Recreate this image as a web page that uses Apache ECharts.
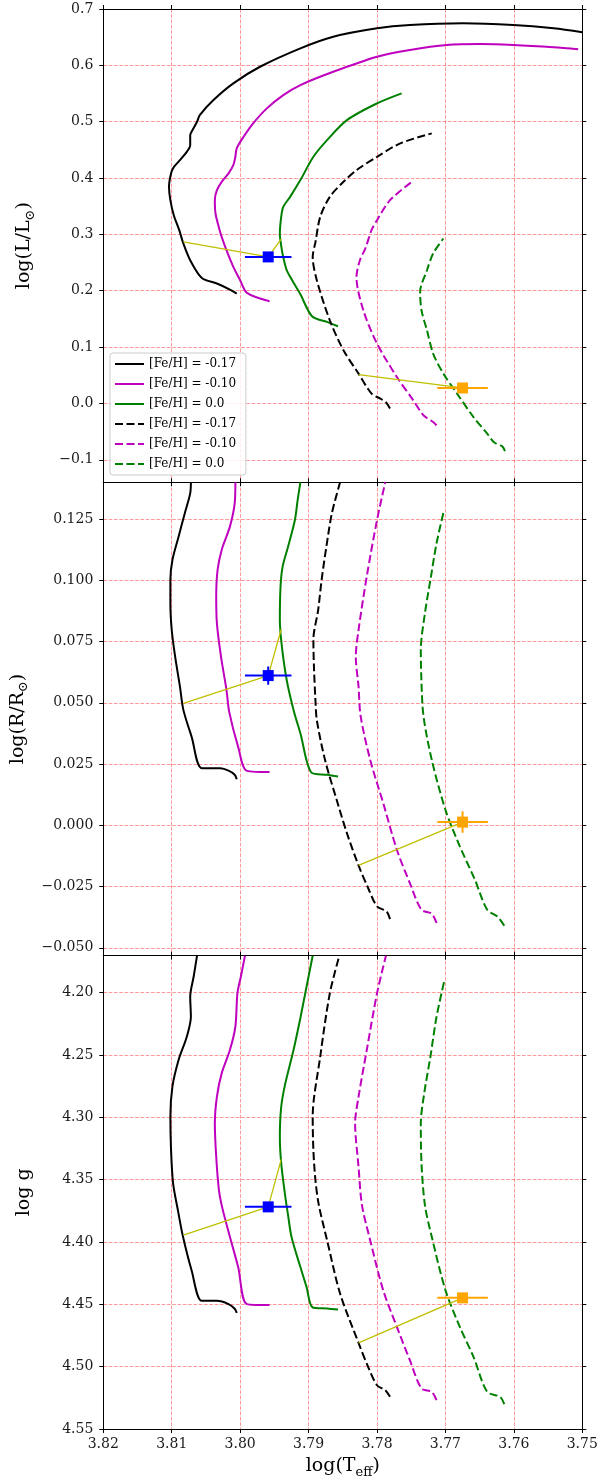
<!DOCTYPE html>
<html><head><meta charset="utf-8">
<script src="https://cdn.jsdelivr.net/npm/echarts@6.0.0/dist/echarts.min.js"></script>
<style>html,body{margin:0;padding:0;background:#fff}#c{width:612px;height:1484px}</style>
</head><body><div id="c"></div>
<script>
// ---- tick values ----
const xTicks = [3.82, 3.81, 3.80, 3.79, 3.78, 3.77, 3.76, 3.75];
const lumTicks = [-0.1, 0.0, 0.1, 0.2, 0.3, 0.4, 0.5, 0.6, 0.7];
const radTicks = [-0.05, -0.025, 0.0, 0.025, 0.05, 0.075, 0.1, 0.125];
const loggTicks = [4.20, 4.25, 4.30, 4.35, 4.40, 4.45, 4.50, 4.55];

// ---- legend names (solid / dashed) ----
const trackNames = ['[Fe/H] = -0.17', '[Fe/H] = -0.10', '[Fe/H] = 0.0',
                    '[Fe/H] = -0.17 ', '[Fe/H] = -0.10 ', '[Fe/H] = 0.0 '];

// ---- panel 1: log(L/Lsun) vs log Teff ----
const lumSolidA = [[3.8005,0.1950],[3.8015,0.2021],[3.8034,0.2128],[3.8056,0.2227],[3.8073,0.2542],[3.8083,0.2838],[3.8089,0.3075],[3.8097,0.3341],[3.8102,0.3607],[3.8104,0.3844],[3.8101,0.4082],[3.8097,0.4194],[3.8088,0.4318],[3.8078,0.4465],[3.8073,0.4584],[3.8073,0.4762],[3.8071,0.4821],[3.8063,0.4998],[3.8059,0.5117],[3.8039,0.5384],[3.8010,0.5680],[3.7971,0.5975],[3.7912,0.6302],[3.7864,0.6508],[3.7800,0.6657],[3.7752,0.6716],[3.7674,0.6746],[3.7601,0.6716],[3.7542,0.6657],[3.7500,0.6586]];
const lumSolidB = [[3.7957,0.1813],[3.7990,0.1961],[3.8000,0.2187],[3.8010,0.2423],[3.8020,0.2719],[3.8027,0.2956],[3.8030,0.3075],[3.8036,0.3371],[3.8037,0.3607],[3.8034,0.3785],[3.8027,0.3933],[3.8017,0.4082],[3.8010,0.4229],[3.8007,0.4377],[3.8005,0.4526],[3.7995,0.4732],[3.7981,0.4970],[3.7961,0.5236],[3.7937,0.5472],[3.7912,0.5650],[3.7864,0.5886],[3.7800,0.6153],[3.7752,0.6272],[3.7698,0.6361],[3.7649,0.6378],[3.7601,0.6361],[3.7542,0.6320],[3.7506,0.6284]];
const lumSolidC = [[3.7857,0.1369],[3.7873,0.1446],[3.7895,0.1547],[3.7912,0.1938],[3.7924,0.2187],[3.7932,0.2364],[3.7937,0.2595],[3.7939,0.2719],[3.7942,0.3016],[3.7940,0.3311],[3.7937,0.3488],[3.7927,0.3666],[3.7912,0.3963],[3.7893,0.4377],[3.7873,0.4673],[3.7844,0.5028],[3.7800,0.5325],[3.7764,0.5503]];
const lumDashA = [[3.7781,-0.0092],[3.7787,0.0020],[3.7795,0.0085],[3.7808,0.0174],[3.7827,0.0529],[3.7849,0.0943],[3.7869,0.1476],[3.7888,0.2187],[3.7894,0.2600],[3.7890,0.2861],[3.7883,0.3311],[3.7869,0.3666],[3.7849,0.3933],[3.7830,0.4140],[3.7800,0.4377],[3.7766,0.4615],[3.7720,0.4792]];
const lumDashB = [[3.7713,-0.0389],[3.7718,-0.0330],[3.7732,-0.0211],[3.7747,0.0055],[3.7771,0.0469],[3.7800,0.1062],[3.7820,0.1654],[3.7830,0.2245],[3.7825,0.2542],[3.7817,0.2750],[3.7808,0.3075],[3.7800,0.3252],[3.7781,0.3607],[3.7749,0.3933]];
const lumDashC = [[3.7613,-0.0845],[3.7617,-0.0762],[3.7629,-0.0691],[3.7639,-0.0536],[3.7659,-0.0242],[3.7683,0.0174],[3.7703,0.0529],[3.7718,0.0885],[3.7727,0.1298],[3.7735,0.1654],[3.7737,0.1979],[3.7727,0.2364],[3.7718,0.2661],[3.7703,0.2927]];

// ---- panel 2: log(R/Rsun) ----
const radSolidA = [[3.8005,0.0188],[3.8008,0.0206],[3.8017,0.0223],[3.8029,0.0233],[3.8056,0.0233],[3.8071,0.0362],[3.8083,0.0471],[3.8088,0.0566],[3.8095,0.0688],[3.8100,0.0797],[3.8102,0.0906],[3.8102,0.1001],[3.8099,0.1083],[3.8090,0.1178],[3.8081,0.1273],[3.8073,0.1355],[3.8072,0.1400]];
const radSolidB = [[3.7957,0.0217],[3.7990,0.0222],[3.8003,0.0321],[3.8016,0.0463],[3.8020,0.0553],[3.8028,0.0688],[3.8034,0.0825],[3.8035,0.0933],[3.8033,0.1042],[3.8027,0.1124],[3.8015,0.1219],[3.8008,0.1314],[3.8007,0.1400]];
const radSolidC = [[3.7857,0.0199],[3.7873,0.0206],[3.7895,0.0213],[3.7912,0.0376],[3.7922,0.0471],[3.7932,0.0593],[3.7939,0.0729],[3.7942,0.0838],[3.7941,0.0974],[3.7938,0.1055],[3.7930,0.1137],[3.7920,0.1246],[3.7916,0.1327],[3.7912,0.1400]];
const radDashA = [[3.7781,-0.0383],[3.7786,-0.0352],[3.7800,-0.0331],[3.7813,-0.0256],[3.7827,-0.0164],[3.7844,-0.0032],[3.7859,0.0104],[3.7876,0.0267],[3.7888,0.0430],[3.7890,0.0512],[3.7892,0.0634],[3.7893,0.0757],[3.7886,0.0879],[3.7881,0.1001],[3.7874,0.1137],[3.7866,0.1273],[3.7854,0.1400]];
const radDashB = [[3.7713,-0.0399],[3.7720,-0.0361],[3.7735,-0.0345],[3.7752,-0.0236],[3.7771,-0.0100],[3.7791,0.0091],[3.7810,0.0267],[3.7824,0.0447],[3.7827,0.0566],[3.7831,0.0688],[3.7827,0.0797],[3.7815,0.1015],[3.7800,0.1246],[3.7788,0.1400]];
const radDashC = [[3.7614,-0.0410],[3.7624,-0.0373],[3.7639,-0.0345],[3.7657,-0.0222],[3.7679,-0.0086],[3.7700,0.0063],[3.7720,0.0267],[3.7732,0.0444],[3.7735,0.0580],[3.7736,0.0716],[3.7730,0.0865],[3.7722,0.1001],[3.7713,0.1151],[3.7702,0.1287]];

// ---- panel 3: log g ----
const loggSolidA = [[3.8005,4.4568],[3.8008,4.4535],[3.8017,4.4498],[3.8034,4.4472],[3.8056,4.4472],[3.8071,4.4226],[3.8084,4.3945],[3.8091,4.3744],[3.8098,4.3530],[3.8101,4.3262],[3.8102,4.2995],[3.8099,4.2754],[3.8090,4.2540],[3.8078,4.2353],[3.8072,4.2193],[3.8073,4.2032],[3.8068,4.1872],[3.8063,4.1703]];
const loggSolidB = [[3.7957,4.4506],[3.7990,4.4498],[3.8003,4.4199],[3.8015,4.3958],[3.8026,4.3728],[3.8031,4.3583],[3.8035,4.3316],[3.8037,4.3048],[3.8034,4.2835],[3.8027,4.2647],[3.8015,4.2460],[3.8007,4.2273],[3.8004,4.2005],[3.7999,4.1872],[3.7993,4.1703]];
const loggSolidC = [[3.7857,4.4541],[3.7873,4.4533],[3.7894,4.4525],[3.7903,4.4360],[3.7912,4.4201],[3.7925,4.3958],[3.7930,4.3784],[3.7934,4.3637],[3.7940,4.3369],[3.7942,4.3156],[3.7940,4.2915],[3.7934,4.2727],[3.7922,4.2460],[3.7912,4.2203],[3.7903,4.1952],[3.7894,4.1703]];
const loggDashA = [[3.7781,4.5242],[3.7788,4.5189],[3.7800,4.5149],[3.7813,4.5002],[3.7827,4.4809],[3.7854,4.4413],[3.7873,4.3985],[3.7885,4.3704],[3.7890,4.3503],[3.7893,4.3262],[3.7894,4.2995],[3.7883,4.2514],[3.7869,4.2005],[3.7855,4.1703]];
const loggDashB = [[3.7713,4.5269],[3.7720,4.5202],[3.7735,4.5175],[3.7752,4.4948],[3.7771,4.4681],[3.7791,4.4386],[3.7810,4.3985],[3.7822,4.3704],[3.7827,4.3396],[3.7832,4.3048],[3.7827,4.2835],[3.7815,4.2460],[3.7800,4.2005],[3.7787,4.1703]];
const loggDashC = [[3.7614,4.5301],[3.7620,4.5242],[3.7639,4.5202],[3.7659,4.4921],[3.7679,4.4681],[3.7700,4.4386],[3.7720,4.3958],[3.7730,4.3704],[3.7735,4.3369],[3.7736,4.3048],[3.7731,4.2807],[3.7722,4.2514],[3.7713,4.2193],[3.7702,4.1912]];

// ---- stars (blue, orange) ----
const starTeff = [3.7959, 3.7675];
const starTeffErr = [0.0034, 0.0037];
const starLum = [0.2600, 0.0274];
const starRad = [0.0611, 0.0013];
const starRadErr = [0.0037, 0.0044];
const starLogg = [4.3718, 4.4448];
const starColors = ['#0000ff', '#ffa500'];

// ---- yellow connectors (track point -> star -> track point) ----
const linkLumBlue = [[3.8083,0.2867],[3.7959,0.2600],[3.7940,0.2915]];
const linkLumOrange = [[3.7827,0.0512],[3.7675,0.0274]];
const linkRadBlue = [[3.8083,0.0498],[3.7959,0.0611],[3.7940,0.0800]];
const linkRadOrange = [[3.7827,-0.0164],[3.7675,0.0013]];
const linkLoggBlue = [[3.8083,4.3945],[3.7959,4.3718],[3.7940,4.3337]];
const linkLoggOrange = [[3.7827,4.4809],[3.7675,4.4448]];

// ================= build =================
const FONT = 'DejaVu Serif';
const trackColors = ['#000000', '#bf00bf', '#008000', '#000000', '#bf00bf', '#008000'];
const gridTops = [9, 482.3, 955.7];
const gridH = 473.3;
const fmt = d => v => (v < -1e-9 ? '\u2212' : '') + Math.abs(v).toFixed(d);
const redGrid = {show: true, lineStyle: {color: 'rgba(255,0,0,0.4)', width: 1, type: [3.7, 1.6]}};
const blackLine = {show: true, onZero: false, lineStyle: {color: '#000', width: 1}};

const grids = gridTops.map(t => ({left: 103.3, width: 479, top: t, height: gridH, containLabel: false}));

const xAxes = [], yAxes = [];
const yDefs = [
  {min: -0.14, max: 0.70, ticks: lumTicks, f: fmt(1), inverse: false,
   name: '{m|log(L/L}{s|\u2299}{m|)}'},
  {min: -0.0532, max: 0.140, ticks: radTicks, f: fmt(3), inverse: false,
   name: '{m|log(R/R}{s|\u2299}{m|)}'},
  {min: 4.1703, max: 4.55, ticks: loggTicks, f: fmt(2), inverse: true,
   name: '{m|log g}'}
];
const rich = {
  m: {fontFamily: FONT, fontSize: 19, color: '#000', lineHeight: 26},
  s: {fontFamily: FONT, fontSize: 13, color: '#000', lineHeight: 14, verticalAlign: 'bottom'}
};
for (let i = 0; i < 3; i++) {
  xAxes.push({
    type: 'value', gridIndex: i, position: 'bottom', min: 3.75, max: 3.82, inverse: true,
    axisLine: blackLine,
    axisTick: {show: true, length: 4, customValues: xTicks, lineStyle: {color: '#000'}},
    axisLabel: {show: i === 2, customValues: xTicks, formatter: fmt(2), margin: 8,
                fontFamily: FONT, fontSize: 14, color: '#1a1a1a'},
    splitLine: redGrid,
    name: i === 2 ? '{m|log(T}{s|eff}{m|)}' : '',
    nameLocation: 'middle', nameGap: 24, nameTextStyle: {rich: rich}
  });
  xAxes.push({
    type: 'value', gridIndex: i, position: 'top', min: 3.75, max: 3.82, inverse: true,
    axisLine: blackLine,
    axisTick: {show: true, length: 4, customValues: xTicks, lineStyle: {color: '#000'}},
    axisLabel: {show: false}, splitLine: {show: false}
  });
  const d = yDefs[i];
  yAxes.push({
    type: 'value', gridIndex: i, position: 'left', min: d.min, max: d.max, inverse: d.inverse,
    axisLine: blackLine,
    axisTick: {show: true, length: 4, customValues: d.ticks, lineStyle: {color: '#000'}},
    axisLabel: {customValues: d.ticks, formatter: d.f, margin: 10,
                fontFamily: FONT, fontSize: 14, color: '#1a1a1a'},
    splitLine: redGrid,
    name: d.name, nameLocation: 'middle', nameGap: 66, nameTextStyle: {rich: rich}
  });
  yAxes.push({
    type: 'value', gridIndex: i, position: 'right', min: d.min, max: d.max, inverse: d.inverse,
    axisLine: blackLine,
    axisTick: {show: true, length: 4, customValues: d.ticks, lineStyle: {color: '#000'}},
    axisLabel: {show: false}, splitLine: {show: false}
  });
}

const series = [];
const panelTracks = [
  [lumSolidA, lumSolidB, lumSolidC, lumDashA, lumDashB, lumDashC],
  [radSolidA, radSolidB, radSolidC, radDashA, radDashB, radDashC],
  [loggSolidA, loggSolidB, loggSolidC, loggDashA, loggDashB, loggDashC]
];
const panelLinks = [[linkLumBlue, linkLumOrange], [linkRadBlue, linkRadOrange], [linkLoggBlue, linkLoggOrange]];
const panelStarY = [starLum, starRad, starLogg];

for (let i = 0; i < 3; i++) {
  const ax = {xAxisIndex: 2 * i, yAxisIndex: 2 * i};
  panelTracks[i].forEach((data, k) => {
    series.push(Object.assign({
      type: 'line', name: trackNames[k], data: data, symbol: 'none', showSymbol: false,
      smooth: 0.3,
      lineStyle: {color: trackColors[k], width: 2, type: k < 3 ? 'solid' : [8, 3.5]},
      itemStyle: {color: trackColors[k]}, z: 2, silent: true, clip: true
    }, ax));
  });
  panelLinks[i].forEach(data => {
    series.push(Object.assign({
      type: 'line', name: 'link', data: data, symbol: 'none',
      lineStyle: {color: '#bfbf00', width: 1.3}, z: 3, silent: true
    }, ax));
  });
  for (let s = 0; s < 2; s++) {
    const y = panelStarY[i][s], t = starTeff[s], e = starTeffErr[s];
    series.push(Object.assign({
      type: 'line', name: 'errx', data: [[t - e, y], [t + e, y]], symbol: 'none',
      lineStyle: {color: starColors[s], width: 2}, z: 4, silent: true
    }, ax));
    if (i === 1) {
      const ey = starRadErr[s];
      series.push(Object.assign({
        type: 'line', name: 'erry', data: [[t, y - ey], [t, y + ey]], symbol: 'none',
        lineStyle: {color: starColors[s], width: 2}, z: 4, silent: true
      }, ax));
    }
    series.push(Object.assign({
      type: 'scatter', name: 'star', data: [[t, y]], symbol: 'rect', symbolSize: 11,
      itemStyle: {color: starColors[s], opacity: 1}, z: 5, silent: true
    }, ax));
  }
}

const chart = echarts.init(document.getElementById('c'), null, {renderer: 'canvas'});
chart.setOption({
  animation: false,
  backgroundColor: '#fff',
  grid: grids,
  xAxis: xAxes,
  yAxis: yAxes,
  legend: {
    data: trackNames, orient: 'vertical', left: 110, top: 353,
    itemWidth: 29, itemHeight: 12, itemGap: 8, padding: [5, 6, 5, 4],
    backgroundColor: 'rgba(255,255,255,0.85)', borderColor: '#cccccc', borderWidth: 1, borderRadius: 3,
    selectedMode: false,
    itemStyle: {opacity: 0},
    textStyle: {fontFamily: FONT, fontSize: 12, color: '#000'}
  },
  series: series
});
</script>
</body></html>
